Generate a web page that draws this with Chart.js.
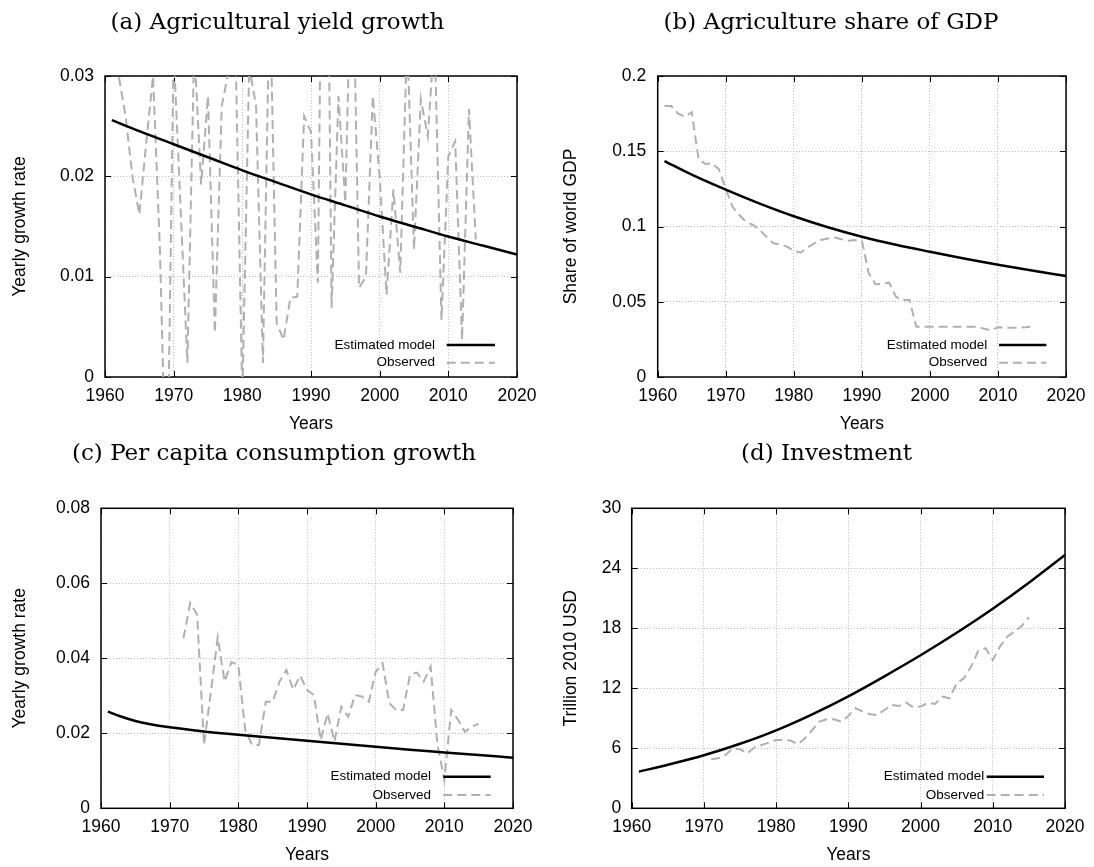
<!DOCTYPE html>
<html><head><meta charset="utf-8">
<script src="https://cdn.jsdelivr.net/npm/chart.js@4/dist/chart.umd.min.js"></script>
<style>
html,body{margin:0;padding:0;background:#fff;}
body{width:1094px;height:867px;position:relative;overflow:hidden;}
canvas{position:absolute;}
</style></head><body>
<canvas id="ca" width="547" height="440" style="left:0;top:0"></canvas>
<canvas id="cb" width="547" height="440" style="left:547px;top:0"></canvas>
<canvas id="cc" width="547" height="434" style="left:0;top:433px"></canvas>
<canvas id="cd" width="547" height="434" style="left:547px;top:433px"></canvas>
<script>
// ---------- data ----------
function span(a, b) { const r = []; for (let y = a; y <= b; y++) r.push(y); return r; }

const xTickYears = [1960, 1970, 1980, 1990, 2000, 2010, 2020];

const modelYears = [1961, 1965, 1970, 1975, 1980, 1985, 1990, 1995, 2000, 2005, 2010, 2015, 2020];
const modelYearsC = [1961, 1963, 1965, 1967, 1970, 1975, 1980, 1985, 1990, 1995, 2000, 2005, 2010, 2015, 2020];

// (a) Agricultural yield growth
const modelYield = [0.0256, 0.0245, 0.0232, 0.0219, 0.0206, 0.0194, 0.0182, 0.0171, 0.0160, 0.0150, 0.0140, 0.0131, 0.0122];
const obsYieldYears = span(1961, 2014);
const obsYield = [0.034, 0.030, 0.026, 0.020, 0.0162, 0.0233, 0.030, 0.0127, -0.014, 0.0325,
  0.017, 0.0014, 0.033, 0.0192, 0.028, 0.0044, 0.027, 0.0305, 0.033, -0.002,
  0.031, 0.027, 0.0014, 0.039, 0.0054, 0.0037, 0.0079, 0.0080, 0.026, 0.0244,
  0.0094, 0.075, 0.0069, 0.028, 0.0174, 0.046, 0.0089, 0.010, 0.028, 0.020,
  0.0082, 0.0187, 0.0104, 0.034, 0.0127, 0.0277, 0.024, 0.034, 0.0057, 0.022,
  0.0235, 0.0037, 0.0267, 0.0137];

// (b) Agriculture share of GDP
const modelShare = [0.1435, 0.1345, 0.1245, 0.1152, 0.1068, 0.0995, 0.0932, 0.0879, 0.0832, 0.0787, 0.0746, 0.0707, 0.0671];
const obsShareYears = span(1961, 2015);
const obsShare = [0.180, 0.180, 0.175, 0.173, 0.176, 0.145, 0.1415, 0.142, 0.138, 0.125,
  0.113, 0.1076, 0.103, 0.101, 0.0977, 0.093, 0.0888, 0.088, 0.0866, 0.084,
  0.0826, 0.086, 0.0888, 0.091, 0.092, 0.0926, 0.0915, 0.0906, 0.091, 0.0906,
  0.069, 0.0616, 0.0618, 0.0627, 0.0534, 0.0512, 0.0512, 0.0334, 0.0334, 0.0334,
  0.0334, 0.0334, 0.0334, 0.0334, 0.0334, 0.0334, 0.0334, 0.032, 0.031, 0.033,
  0.0328, 0.0328, 0.0328, 0.033, 0.0334];

// (c) Per capita consumption growth
const modelCons = [0.0258, 0.0244, 0.0233, 0.0225, 0.0216, 0.0205, 0.0196, 0.0188, 0.0180, 0.0172, 0.0164, 0.0156, 0.0149, 0.0142, 0.0135];
const obsConsYears = span(1972, 2015);
const obsCons = [0.0453, 0.0548, 0.0516, 0.0169, 0.031, 0.0456, 0.0338, 0.039, 0.0382,
  0.0209, 0.0169, 0.0169, 0.0284, 0.0284, 0.0338, 0.0369, 0.0316, 0.0354, 0.0316,
  0.0302, 0.0182, 0.0253, 0.0178, 0.0271, 0.0244, 0.0302, 0.0298, 0.0284, 0.0364,
  0.0387, 0.028, 0.0262, 0.0262, 0.0356, 0.0362, 0.0338, 0.0378, 0.017, 0.0075,
  0.0262, 0.0236, 0.0204, 0.0218, 0.0225];

// (d) Investment (trillion 2010 USD)
const modelInv = [3.67, 4.35, 5.3, 6.45, 7.8, 9.4, 11.2, 13.2, 15.3, 17.55, 19.95, 22.55, 25.33];
const obsInvYears = span(1971, 2015);
const obsInv = [4.9, 5.0, 5.33, 6.0, 5.9, 5.5, 6.1, 6.33, 6.57, 6.83,
  6.83, 6.77, 6.4, 7.0, 7.83, 8.67, 8.9, 8.9, 8.67, 9.23,
  10.0, 9.67, 9.4, 9.33, 9.83, 10.33, 10.23, 10.57, 10.1, 10.17,
  10.57, 10.43, 11.17, 11.0, 12.5, 13.0, 14.17, 15.77, 16.0, 14.83,
  16.17, 17.17, 17.67, 18.23, 19.1];

const seriesNames = ['Estimated model', 'Observed'];
const xTitle = 'Years';

// ---------- chart setup ----------
Chart.defaults.font.family = "'Liberation Sans', Arial, sans-serif";
Chart.defaults.color = '#000';

const pts = (xs, ys) => xs.map((x, i) => ({x: x, y: ys[i]}));

const gnuFrame = {
  id: 'gnuFrame',
  afterLayout(chart, args, o) {
    if (chart.titleBlock && o.titleCenter != null) {
      chart.titleBlock.left = o.titleCenter - 260;
      chart.titleBlock.right = o.titleCenter + 260;
    }
  },
  beforeDatasetsDraw(chart, args, o) {
    const {ctx, chartArea: a, scales} = chart;
    const x = scales.x, y = scales.y;
    const t = 6;
    ctx.save();
    ctx.strokeStyle = '#000';
    ctx.lineWidth = 1;
    ctx.beginPath();
    x.ticks.forEach(tk => {
      const px = Math.round(x.getPixelForValue(tk.value)) + 0.5;
      ctx.moveTo(px, a.bottom); ctx.lineTo(px, a.bottom - t);
      ctx.moveTo(px, a.top); ctx.lineTo(px, a.top + t);
    });
    y.ticks.forEach(tk => {
      const py = Math.round(y.getPixelForValue(tk.value)) + 0.5;
      ctx.moveTo(a.left, py); ctx.lineTo(a.left + t, py);
      ctx.moveTo(a.right, py); ctx.lineTo(a.right - t, py);
    });
    ctx.stroke();
    ctx.lineWidth = 1.5;
    ctx.strokeRect(a.left, a.top, a.right - a.left, a.bottom - a.top);
    ctx.restore();
  },
  afterDraw(chart, args, o) {
    const {ctx, chartArea: a} = chart;
    const lg = o.legend;
    ctx.save();
    ctx.font = "13.5px 'Liberation Sans', Arial, sans-serif";
    ctx.textAlign = 'right';
    ctx.textBaseline = 'middle';
    ctx.fillStyle = '#000';
    chart.data.datasets.forEach((ds, i) => {
      const yy = a.bottom - lg.rows[i];
      ctx.fillText(ds.label, a.right - lg.text, yy);
      ctx.save();
      ctx.strokeStyle = ds.borderColor;
      ctx.lineWidth = ds.borderWidth;
      ctx.setLineDash(ds.borderDash || []);
      ctx.beginPath();
      ctx.moveTo(a.right - lg.s0, yy);
      ctx.lineTo(a.right - lg.s1, yy);
      ctx.stroke();
      ctx.restore();
    });
    ctx.restore();
  }
};

function makePanel(id, p) {
  const fmt = v => String(+(+v).toFixed(4));
  new Chart(document.getElementById(id), {
    type: 'line',
    data: {
      datasets: [
        {label: seriesNames[0], data: pts(p.modelX, p.model), borderColor: '#000', borderWidth: 2.5,
         pointRadius: 0, cubicInterpolationMode: 'monotone', fill: false, clip: 0, order: 0},
        {label: seriesNames[1], data: pts(p.obsX, p.obs), borderColor: '#b0b0b0', borderWidth: 2,
         borderDash: [9, 5], pointRadius: 0, tension: 0, fill: false, clip: 0, order: 1}
      ]
    },
    options: {
      responsive: false,
      animation: false,
      devicePixelRatio: 1,
      events: [],
      layout: {padding: {left: 0, right: p.padRight, top: 0, bottom: 0}},
      plugins: {
        legend: {display: false},
        tooltip: {enabled: false},
        title: {display: true, text: p.title, color: '#000',
          font: {family: "'DejaVu Serif', serif", size: 23, weight: 'normal', lineHeight: 1.2},
          padding: {top: p.titleTop, bottom: p.titleBottom}},
        gnuFrame: {titleCenter: p.titleCenter, legend: p.legend}
      },
      scales: {
        x: {
          type: 'linear', min: 1960, max: 2020,
          afterBuildTicks: s => { s.ticks = xTickYears.map(v => ({value: v})); },
          afterFit: s => { s.height = p.xHeight; },
          ticks: {callback: v => String(v), font: {size: 17.5}, padding: 8.5, maxRotation: 0, autoSkip: false},
          grid: {color: '#bdbdbd', lineWidth: 1, drawTicks: false},
          border: {display: false, dash: [1, 2]},
          title: {display: true, text: xTitle, font: {size: 17.5}, padding: {top: 0, bottom: p.xTitleBottom}}
        },
        y: {
          type: 'linear', min: p.yMin, max: p.yMax,
          afterFit: s => { s.width = p.yWidth; },
          ticks: {stepSize: p.yStep, callback: fmt, font: {size: 17.5}, padding: p.yTickPad, autoSkip: false},
          grid: {color: '#bdbdbd', lineWidth: 1, drawTicks: false},
          border: {display: false, dash: [1, 2]},
          title: {display: true, text: p.yTitle, font: {size: 17.5}, padding: {top: p.yTitleTop, bottom: 0}}
        }
      }
    },
    plugins: [gnuFrame]
  });
}

makePanel('ca', {
  title: '(a) Agricultural yield growth', titleCenter: 277.5, titleTop: 8.9, titleBottom: 39.5,
  yTitle: 'Yearly growth rate', yTitleTop: 9.5, yWidth: 105, yTickPad: 11,
  xHeight: 63, xTitleBottom: 5.5, padRight: 30,
  yMin: 0, yMax: 0.03, yStep: 0.01,
  modelX: modelYears, model: modelYield, obsX: obsYieldYears, obs: obsYield,
  legend: {text: 82, s0: 70.3, s1: 22, rows: [32, 14.3]}
});
makePanel('cb', {
  title: '(b) Agriculture share of GDP', titleCenter: 284, titleTop: 8.9, titleBottom: 39.5,
  yTitle: 'Share of world GDP', yTitleTop: 14, yWidth: 110.7, yTickPad: 11.5,
  xHeight: 63, xTitleBottom: 5.5, padRight: 27,
  yMin: 0, yMax: 0.2, yStep: 0.05,
  modelX: modelYears, model: modelShare, obsX: obsShareYears, obs: obsShare,
  legend: {text: 78.7, s0: 67, s1: 19.7, rows: [32, 14.3]}
});
makePanel('cc', {
  title: '(c) Per capita consumption growth', titleCenter: 274, titleTop: 6.9, titleBottom: 40.8,
  yTitle: 'Yearly growth rate', yTitleTop: 9.5, yWidth: 101, yTickPad: 11,
  xHeight: 58.7, xTitleBottom: 1.5, padRight: 34,
  yMin: 0, yMax: 0.08, yStep: 0.02,
  modelX: modelYearsC, model: modelCons, obsX: obsConsYears, obs: obsCons,
  legend: {text: 82, s0: 69.7, s1: 22.3, rows: [31.6, 13.3]}
});
makePanel('cd', {
  title: '(d) Investment', titleCenter: 279.5, titleTop: 6.9, titleBottom: 40.8,
  yTitle: 'Trillion 2010 USD', yTitleTop: 14, yWidth: 84.7, yTickPad: 10.5,
  xHeight: 58.7, xTitleBottom: 1.5, padRight: 29,
  yMin: 0, yMax: 30, yStep: 6,
  modelX: modelYears, model: modelInv, obsX: obsInvYears, obs: obsInv,
  legend: {text: 80.7, s0: 78.3, s1: 21, rows: [31.6, 13.3]}
});
</script>
</body></html>
